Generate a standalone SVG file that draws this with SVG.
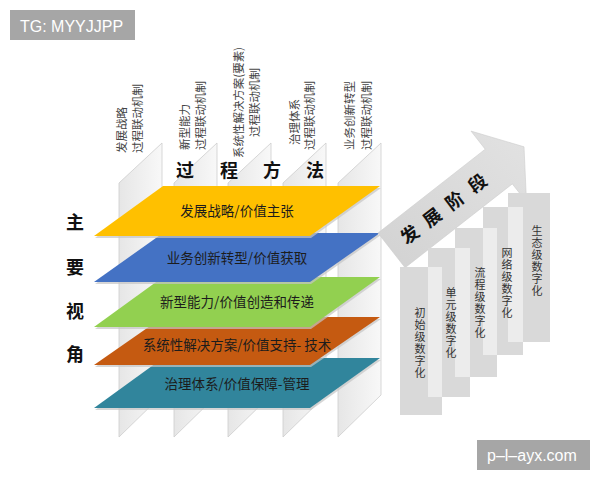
<svg xmlns="http://www.w3.org/2000/svg" width="600" height="480" viewBox="0 0 600 480">
<defs>
<linearGradient id="panelGrad" x1="0" y1="0" x2="1" y2="0">
<stop offset="0" stop-color="#e6e6e6"/>
<stop offset="1" stop-color="#f8f8f8"/>
</linearGradient>
<linearGradient id="arrowGrad" x1="0" y1="1" x2="1" y2="0">
<stop offset="0" stop-color="#d2d2d2"/>
<stop offset="1" stop-color="#e2e2e2"/>
</linearGradient>
<style>
.panel{fill:url(#panelGrad);stroke:#cdcdcd;stroke-width:0.8}
.ptxt{font-family:"Noto Sans CJK SC","Noto Sans",sans-serif;font-size:11.5px;fill:#444}
.plane-shadow{fill:#c4c4c4;opacity:0.7}
.ltxt{font-family:"Noto Sans CJK SC","Noto Sans",sans-serif;font-size:13.5px;fill:#1c1c1c;text-anchor:middle}
.big{font-family:"Noto Sans CJK SC","Noto Sans",sans-serif;font-size:18px;font-weight:bold;fill:#111;text-anchor:middle}
.block{fill:#d9d9d9}
.overlap{fill:#ececec}
.btxt{font-family:"Noto Sans CJK SC","Noto Sans",sans-serif;font-size:11px;fill:#333;text-anchor:middle}
.wm{fill:#a6a6a6}
.wmtxt{font-family:"Liberation Sans",Arial,sans-serif;font-size:16px;fill:#ffffff}
</style>
</defs>
<rect width="600" height="480" fill="#ffffff"/>

<g id="watermark-top">
<rect class="wm" x="10" y="10" width="125" height="30"/>
<text class="wmtxt" x="20" y="32">TG: MYYJJPP</text>
</g>

<g id="panels">
<g id="panel-1">
<polygon class="panel" points="119,183 162,143 162,395 119,437"/>
<text class="ptxt" transform="translate(126,153) rotate(-90)">发展战略</text>
<text class="ptxt" transform="translate(142,153) rotate(-90)">过程联动机制</text>
</g>
<g id="panel-2">
<polygon class="panel" points="174,183 217,143 217,395 174,437"/>
<text class="ptxt" transform="translate(189,150) rotate(-90)">新型能力</text>
<text class="ptxt" transform="translate(205,150) rotate(-90)">过程联动机制</text>
</g>
<g id="panel-3">
<polygon class="panel" points="228,183 271,143 271,395 228,437"/>
<text class="ptxt" transform="translate(243,158) rotate(-90)" textLength="111" lengthAdjust="spacingAndGlyphs">系统性解决方案(要素)</text>
<text class="ptxt" transform="translate(259,137) rotate(-90)">过程联动机制</text>
</g>
<g id="panel-4">
<polygon class="panel" points="283,183 326,143 326,395 283,437"/>
<text class="ptxt" transform="translate(299,145) rotate(-90)">治理体系</text>
<text class="ptxt" transform="translate(314,150) rotate(-90)">过程联动机制</text>
</g>
<g id="panel-5">
<polygon class="panel" points="338,183 381,143 381,395 338,437"/>
<text class="ptxt" transform="translate(354,150) rotate(-90)">业务创新转型</text>
<text class="ptxt" transform="translate(371,150) rotate(-90)">过程联动机制</text>
</g>
</g>

<g id="title-process">
<text class="big" x="185" y="177">过</text>
<text class="big" x="229" y="177">程</text>
<text class="big" x="272" y="177">方</text>
<text class="big" x="315" y="177">法</text>
</g>

<g id="title-view">
<text class="big" x="75" y="229">主</text>
<text class="big" x="75" y="274">要</text>
<text class="big" x="75" y="318">视</text>
<text class="big" x="75" y="361">角</text>
</g>

<g id="planes">
<g id="plane-governance">
<polygon class="plane-shadow" points="164,360 381,360 311,410 95,410"/>
<polygon fill="#31859c" points="163,358 380,358 310,408 94,408"/>
<text class="ltxt" x="237" y="389">治理体系/价值保障-管理</text>
</g>
<g id="plane-solution">
<polygon class="plane-shadow" points="164,319 381,319 311,367 95,367"/>
<polygon fill="#c55a11" points="163,317 380,317 310,365 94,365"/>
<text class="ltxt" x="237" y="350">系统性解决方案/价值支持- 技术</text>
</g>
<g id="plane-capability">
<polygon class="plane-shadow" points="164,279 381,279 311,329 95,329"/>
<polygon fill="#92d050" points="163,277 380,277 310,327 94,327"/>
<text class="ltxt" x="237" y="307">新型能力/价值创造和传递</text>
</g>
<g id="plane-business">
<polygon class="plane-shadow" points="164,235 381,235 311,284 95,284"/>
<polygon fill="#4472c4" points="163,233 380,233 310,282 94,282"/>
<text class="ltxt" x="237" y="263">业务创新转型/价值获取</text>
</g>
<g id="plane-strategy">
<polygon class="plane-shadow" points="164,188 381,188 311,238 95,238"/>
<polygon fill="#ffc000" points="163,186 380,186 310,236 94,236"/>
<text class="ltxt" x="237" y="216">发展战略/价值主张</text>
</g>
</g>

<g id="connectors">
<polygon fill="url(#arrowGrad)" stroke="#cccccc" stroke-width="0.6" points="378,233 485.2,149.2 471,131.1 524,146.8 526.5,202 512.3,183.9 405.1,267.7"/>
<text class="big" transform="translate(410,235) rotate(-37)" x="0 28.3 56.6 84.9" y="6">发展阶段</text>
</g>

<g id="stages">
<g id="stage-5">
<rect class="block" x="508" y="193" width="42" height="149"/>
</g>
<g id="stage-4">
<rect class="block" x="483" y="207" width="40" height="148"/>
<rect class="overlap" x="508" y="207" width="15" height="135"/>
</g>
<g id="stage-3">
<rect class="block" x="455" y="228" width="42" height="149"/>
<rect class="overlap" x="483" y="228" width="14" height="127"/>
</g>
<g id="stage-2">
<rect class="block" x="428" y="248" width="42" height="149"/>
<rect class="overlap" x="455" y="248" width="15" height="129"/>
</g>
<g id="stage-1">
<rect class="block" x="400" y="267" width="42" height="148"/>
<rect class="overlap" x="428" y="267" width="14" height="130"/>
</g>
<text class="btxt" x="420 420 420 420 420 420" y="317 329 341 353 365 377">初始级数字化</text>
<text class="btxt" x="451 451 451 451 451 451" y="297 309 321 333 345 357">单元级数字化</text>
<text class="btxt" x="480 480 480 480 480 480" y="277 289 301 313 325 337">流程级数字化</text>
<text class="btxt" x="507 507 507 507 507 507" y="257 269 281 293 305 317">网络级数字化</text>
<text class="btxt" x="537 537 537 537 537 537" y="235 247 259 271 283 295">生态级数字化</text>
</g>

<g id="watermark-bottom">
<rect class="wm" x="477" y="440" width="113" height="30"/>
<text class="wmtxt" x="487" y="461">p–l–ayx.com</text>
</g>
</svg>
